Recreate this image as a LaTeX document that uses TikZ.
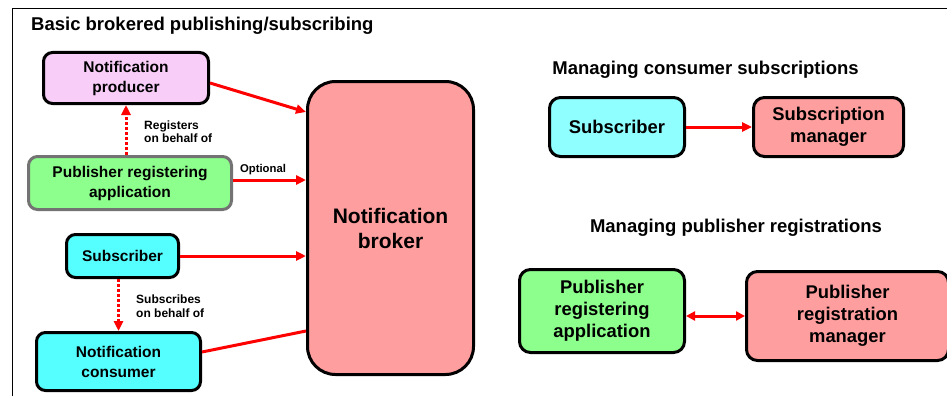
\documentclass[tikz,border=0pt]{standalone}
\usepackage{fontspec}
\setmainfont{Liberation Sans}
\usetikzlibrary{arrows.meta}
\definecolor{rd}{HTML}{FF0000}
\definecolor{pinkf}{HTML}{F8CDF8}
\definecolor{greenf}{HTML}{8CFF8C}
\definecolor{cyanf}{HTML}{55FFFF}
\definecolor{cyanl}{HTML}{90FFFF}
\definecolor{salmon}{HTML}{FF9E9E}
\tikzset{
  box/.style={draw=black, line width=3pt, rounded corners=9pt, inner sep=0pt, align=center,
    font=\bfseries\fontsize{15.5}{20}\selectfont},
  bigbox/.style={box, rounded corners=11pt, font=\bfseries\fontsize{18.4}{22}\selectfont},
  heading/.style={font=\bfseries\fontsize{18.5}{22}\selectfont, inner sep=0pt},
  lbl/.style={font=\bfseries\fontsize{12}{13.5}\selectfont, inner sep=0pt, align=left},
  arr/.style={draw=rd, line width=3pt, -{Triangle[length=10pt,width=9pt]}},
  dotarr/.style={arr, dash pattern=on 3pt off 2pt},
  plain/.style={draw=rd, line width=3pt},
  dblarr/.style={draw=rd, line width=3pt, {Triangle[length=9pt,width=9pt]}-{Triangle[length=9pt,width=9pt]}}
}
\begin{document}
\begin{tikzpicture}[x=1pt,y=-1pt]
\useasboundingbox (0,0) rectangle (947,396);
% frame
\draw[line width=1pt] (12,396) -- (12,9) -- (950,9);
% headings
\node[heading, anchor=west] (t1) at (31,26) {Basic brokered publishing/subscribing};
\node[heading] (t2) at (705.5,70) {Managing consumer subscriptions};
\node[heading] (t3) at (736,228) {Managing publisher registrations};
% left part
\node[box, fill=pinkf, minimum width=165pt, minimum height=51pt] (prod) at (126,78) {Notification\\producer};
\node[box, fill=greenf, draw=black!55, minimum width=203pt, minimum height=53pt] (pra) at (130,183) {Publisher registering\\application};
\node[box, fill=cyanf, minimum width=112pt, minimum height=43pt] (subL) at (122.5,256) {Subscriber};
\node[box, fill=cyanf, minimum width=164pt, minimum height=58pt] (cons) at (118.5,361.5) {Notification\\consumer};
\node[box, fill=salmon, rounded corners=28pt, minimum width=166pt, minimum height=293pt,
  font=\bfseries\fontsize{21}{25}\selectfont] (broker) at (390.5,228) {Notification\\broker};
% labels
\node[lbl, anchor=west] (l1) at (144,131.5) {Registers\\on behalf of};
\node[lbl, font=\bfseries\fontsize{11.3}{13.5}\selectfont] (l2) at (263,170) {Optional};
\node[lbl, anchor=west] (l3) at (136,306) {Subscribes\\on behalf of};
% connectors left
\draw[arr] ([yshift=-5pt]prod.east) -- ([yshift=-32pt]broker.north west);
\draw[arr] ([yshift=3pt]pra.east) -- ([yshift=3pt]pra.east -| broker.west);
\draw[arr] (subL.east) -- (subL.east -| broker.west);
\draw[plain] ([yshift=9.5pt]cons.east) -- ([yshift=45pt]broker.south west);
\draw[dotarr] (prod.south |- pra.north) -- (prod.south);
\draw[dotarr] (subL.south -| cons.north) -- (cons.north);
% right part
\node[bigbox, fill=cyanl, minimum width=135pt, minimum height=59pt] (subR) at (617,127) {Subscriber};
\node[bigbox, fill=salmon, minimum width=150pt, minimum height=59pt] (smgr) at (828.5,127) {Subscription\\manager};
\node[bigbox, fill=greenf, minimum width=165pt, minimum height=83pt] (praR) at (602,311) {Publisher\\registering\\application};
\node[bigbox, fill=salmon, minimum width=202pt, minimum height=89pt] (prm) at (847.5,316) {Publisher\\registration\\manager};
\draw[arr] (subR.east) -- (smgr.west);
\draw[dblarr] (prm.west -| praR.east) -- (prm.west);
\end{tikzpicture}
\end{document}
